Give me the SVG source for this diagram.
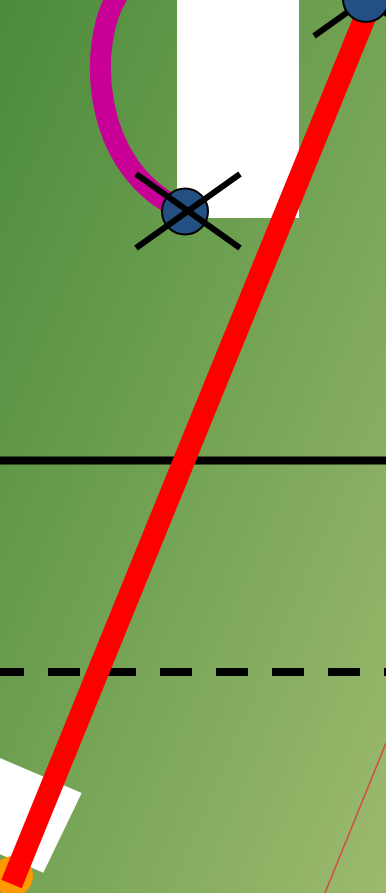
<svg xmlns="http://www.w3.org/2000/svg" width="386" height="893" viewBox="0 0 386 893">
  <defs>
    <linearGradient id="bg" x1="0" y1="0" x2="1" y2="1">
      <stop offset="0" stop-color="#4a8b3a"/>
      <stop offset="1" stop-color="#9dba6e"/>
    </linearGradient>
  </defs>
  <style>
    .node { fill: #234f82; stroke: #000; stroke-width: 2; }
    .cross { stroke: #000; stroke-width: 6; fill: none; }
    .block { fill: #ffffff; }
  </style>
  <rect id="background" x="0" y="0" width="386" height="893" fill="url(#bg)"/>
  <g id="blocks">
    <rect class="block" x="177" y="-2" width="122" height="220"/>
    <polygon class="block" points="81.7,793 43.3,872.7 -94.6,813.6 -56,734"/>
  </g>
  <g id="connectors">
    <path d="M 118 -5 C 88 40, 88 170, 185 211" fill="none" stroke="#c80096" stroke-width="21"/>
    <line x1="0" y1="460.5" x2="386" y2="460.5" stroke="#000" stroke-width="8"/>
    <line x1="0" y1="672" x2="386" y2="672" stroke="#000" stroke-width="8" stroke-dasharray="32 24" stroke-dashoffset="8"/>
    <line x1="386" y1="743" x2="325" y2="893" stroke="#d44a46" stroke-width="1.5"/>
  </g>
  <g id="node-orange">
    <circle cx="13" cy="876" r="20" fill="#ff9900"/>
  </g>
  <g id="red-route">
    <line x1="372" y1="0" x2="11.5" y2="884" stroke="#ff0000" stroke-width="22"/>
  </g>
  <g id="node-1">
    <circle class="node" cx="185" cy="211.5" r="23"/>
    <line class="cross" x1="136" y1="174" x2="240" y2="248"/>
    <line class="cross" x1="136" y1="248" x2="240" y2="174"/>
  </g>
  <g id="node-2">
    <line class="cross" x1="314" y1="36" x2="418" y2="-38"/>
    <line class="cross" x1="314" y1="-38" x2="418" y2="36"/>
    <circle class="node" cx="366" cy="-1" r="23"/>
  </g>
</svg>
